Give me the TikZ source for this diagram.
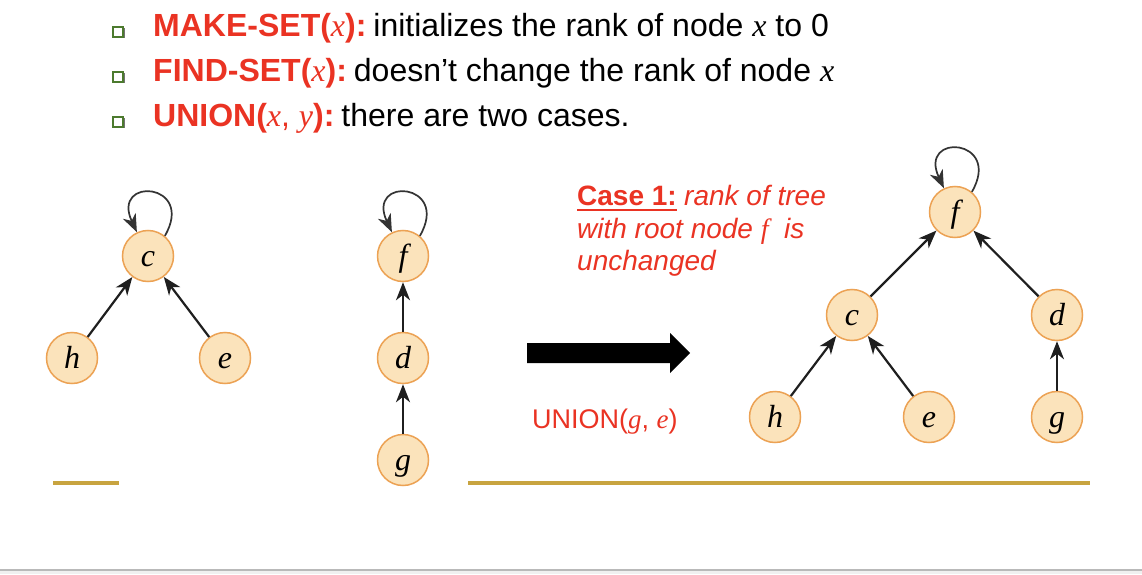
\documentclass[tikz,border=0pt]{standalone}
\usepackage{fontspec}
\setmainfont{Liberation Sans}
\newfontfamily\nodefont{Liberation Serif}
\usetikzlibrary{arrows.meta}
\definecolor{redt}{RGB}{234,51,35}
\definecolor{nfill}{RGB}{251,227,187}
\definecolor{nborder}{RGB}{236,162,84}
\definecolor{goldline}{RGB}{200,164,64}
\definecolor{bullgreen}{RGB}{76,122,46}
\newcommand{\mi}[1]{{\nodefont\itshape #1}}
\begin{document}
\begin{tikzpicture}[x=1pt,y=1pt,
  tnode/.style={circle,draw=nborder,fill=nfill,line width=1.5pt,minimum size=51pt,inner sep=0pt,
    text height=20pt,text depth=0pt,font=\fontsize{32}{34}\nodefont\itshape},
  edge/.style={line width=2.2pt,draw=black!88,-{Stealth[length=18pt,width=14pt,inset=5.5pt]}},
  loopedge/.style={line width=1.7pt,draw=black!80,-{Stealth[length=18pt,width=14pt,inset=5.5pt]}},
  bullettext/.style={anchor=base west,inner sep=0pt,font=\fontsize{32}{38}\selectfont},
  casetext/.style={anchor=base west,inner sep=0pt,text=redt,font=\fontsize{28}{33}\selectfont\itshape},
  bulletbox/.style={minimum size=10pt,inner sep=0pt,draw=bullgreen,fill=white,line width=1.4pt},
  bulletshadow/.style={minimum size=10pt,inner sep=0pt,fill=black!55},
  goldrule/.style={draw=goldline,line width=3.2pt}
]
\useasboundingbox (0,0) rectangle (1142,574);
\fill[white] (0,0) rectangle (1142,574);
% bottom band
\fill[black!6] (0,0) rectangle (1142,3);
\fill[gray!55] (0,3) rectangle (1142,5.5);

% bullets
\node[bulletshadow] (s1) at (119.5,540.5) {};
\node[bulletbox] (b1) at (118,542) {};
\node[bulletshadow] (s2) at (119.5,495.5) {};
\node[bulletbox] (b2) at (118,497) {};
\node[bulletshadow] (s3) at (119.5,450.5) {};
\node[bulletbox] (b3) at (118,452) {};

\node[bullettext] (t1) at (153,537) {\textcolor{redt}{\textbf{MAKE-SET(}\mi{x}\textbf{):}}\hspace{7pt}initializes the rank of node \mi{x} to 0};
\node[bullettext] (t2) at (153,492) {\textcolor{redt}{\textbf{FIND-SET(}\mi{x}\textbf{):}}\hspace{7pt}doesn’t change the rank of node \mi{x}};
\node[bullettext] (t3) at (153,447) {\textcolor{redt}{\textbf{UNION(}\mi{x}, \mi{y}\textbf{):}}\hspace{7pt}there are two cases.};

% left trees
\node[tnode] (c) at (148,318) {c};
\node[tnode] (h) at (72,216) {h};
\node[tnode] (e) at (225,216) {e};
\node[tnode] (f1) at (403,318) {f};
\node[tnode] (d1) at (403,216) {d};
\node[tnode] (g1) at (403,114) {g};
\draw[edge] (h) -- (c);
\draw[edge] (e) -- (c);
\draw[edge] (d1) -- (f1);
\draw[edge] (g1) -- (d1);
\draw[loopedge] (c.50) .. controls +(60:62) and +(115:62) .. (c.115);
\draw[loopedge] (f1.50) .. controls +(60:62) and +(115:62) .. (f1.115);

% gold rules
\coordinate (gl1) at (53,91);
\coordinate (gl2) at (119,91);
\coordinate (gr1) at (468,91);
\coordinate (gr2) at (1090,91);
\draw[goldrule] (gl1) -- (gl2);
\draw[goldrule] (gr1) -- (gr2);

% case text
\node[casetext,font=\fontsize{28}{33}\selectfont\bfseries] (case) at (577,369) {Case 1:};
\node[casetext,anchor=base west] (case1b) at ([xshift=7pt]case.base east) {rank of tree};
\draw[redt,line width=2.2pt] ([yshift=-5pt]case.base west) -- ([yshift=-5pt]case.base east);
\node[casetext] (case2) at (577,336) {with root node \mi{f}\ \ is};
\node[casetext] (case3) at (577,304) {unchanged};

% big arrow
\fill[black] (527,231) -- (670,231) -- (670,241) -- (690,221) -- (670,201) -- (670,211) -- (527,211) -- cycle;

\node[anchor=base west,inner sep=0pt,text=redt,font=\fontsize{27}{30}\selectfont] (un) at (532,146) {UNION(\mi{g}, \mi{e})};

% right tree
\node[tnode] (f) at (955,362) {f};
\node[tnode] (c2) at (852,259) {c};
\node[tnode] (d2) at (1057,259) {d};
\node[tnode] (h2) at (775,157) {h};
\node[tnode] (e2) at (929,157) {e};
\node[tnode] (g2) at (1057,157) {g};
\draw[edge] (c2) -- (f);
\draw[edge] (d2) -- (f);
\draw[edge] (h2) -- (c2);
\draw[edge] (e2) -- (c2);
\draw[edge] (g2) -- (d2);
\draw[loopedge] (f.50) .. controls +(60:62) and +(115:62) .. (f.115);
\end{tikzpicture}
\end{document}
